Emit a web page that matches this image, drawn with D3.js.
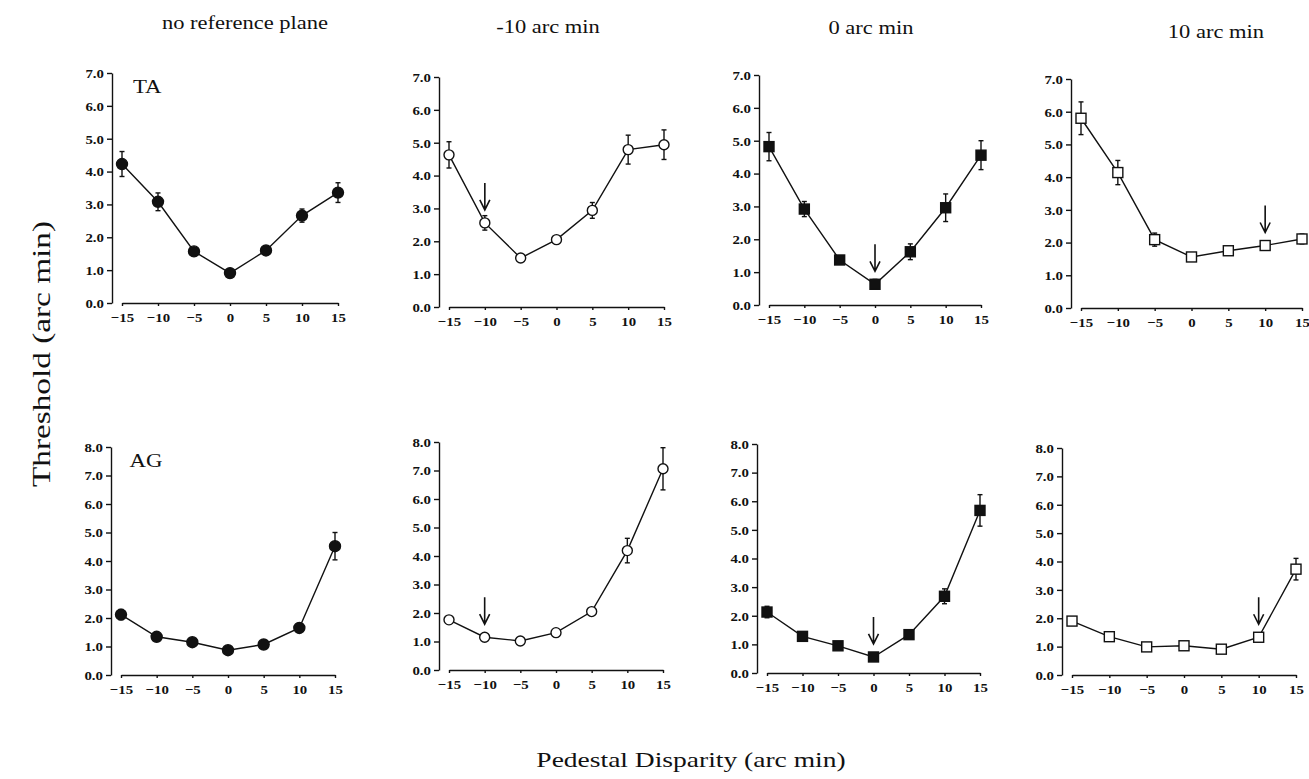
<!DOCTYPE html>
<html>
<head>
<meta charset="utf-8">
<script src="https://cdn.jsdelivr.net/npm/d3@7"></script>
<style>
  body { margin: 0; background: #fff; }
  svg { display: block; }
  text { font-family: "Liberation Serif", "Times New Roman", serif; fill: #111; }
</style>
</head>
<body>
<svg id="chart" width="1309" height="779"></svg>
<script>
// pedestal disparities (arc min)
var disparity = [-15, -10, -5, 0, 5, 10, 15];
var titles = ["no reference plane", "-10 arc min", "0 arc min", "10 arc min"];
var subjects = ["TA", "AG"];
var refPlane = [null, -10, 0, 10];
var yMax = [7, 8];

// subject TA
var taNone   = [4.23, 3.08, 1.57, 0.91, 1.60, 2.66, 3.36];
var taNoneE  = [0.38, 0.27, 0.08, 0.05, 0.06, 0.20, 0.30];
var taMinus  = [4.63, 2.56, 1.49, 2.05, 2.94, 4.79, 4.94];
var taMinusE = [0.40, 0.22, 0.07, 0.10, 0.24, 0.44, 0.45];
var taZero   = [4.82, 2.92, 1.37, 0.63, 1.62, 2.96, 4.56];
var taZeroE  = [0.43, 0.23, 0.10, 0.15, 0.24, 0.42, 0.44];
var taPlus   = [5.80, 4.14, 2.09, 1.56, 1.75, 1.91, 2.11];
var taPlusE  = [0.50, 0.37, 0.20, 0.06, 0.10, 0.12, 0.15];

// subject AG
var agNone   = [2.12, 1.34, 1.15, 0.87, 1.07, 1.65, 4.52];
var agNoneE  = [0.18, 0.07, 0.05, 0.04, 0.06, 0.16, 0.48];
var agMinus  = [1.76, 1.15, 1.02, 1.31, 2.05, 4.19, 7.06];
var agMinusE = [0.10, 0.05, 0.04, 0.06, 0.12, 0.43, 0.74];
var agZero   = [2.13, 1.28, 0.95, 0.56, 1.34, 2.68, 5.68];
var agZeroE  = [0.20, 0.05, 0.05, 0.05, 0.05, 0.26, 0.55];
var agPlus   = [1.90, 1.35, 0.99, 1.03, 0.91, 1.33, 3.73];
var agPlusE  = [0.10, 0.05, 0.04, 0.04, 0.04, 0.05, 0.38];

var series = [
  [[taNone, taNoneE], [taMinus, taMinusE], [taZero, taZeroE], [taPlus, taPlusE]],
  [[agNone, agNoneE], [agMinus, agMinusE], [agZero, agZeroE], [agPlus, agPlusE]]
];
var markers = ["circle", "circle", "square", "square"];
var filled = [true, false, true, false];

// panel placement
var plotLeft  = [[122, 449, 769, 1081], [121, 449, 767, 1072]];
var plotWidth = [[216, 215, 212, 221], [214, 214, 213, 224]];
var plotBottom = [[303, 307, 305, 308], [675, 670, 673, 675]];
var plotTop    = [[73, 77, 75, 79], [447, 442, 444, 448]];
var titleX = [245, 548, 871, 1216];
var titleY = [29, 33, 34, 38];

var svg = d3.select("#chart");

function stretch(sel, k){
  sel.each(function(){
    var w = this.getComputedTextLength();
    d3.select(this).attr("textLength", w * k).attr("lengthAdjust", "spacingAndGlyphs");
  });
}

// column titles
svg.selectAll("text.title").data(titles).enter().append("text")
  .attr("class", "title")
  .attr("x", function(d, i){ return titleX[i]; })
  .attr("y", function(d, i){ return titleY[i]; })
  .attr("text-anchor", "middle")
  .style("font-size", "18px")
  .text(function(d){ return d; })
  .call(stretch, 1.25);

// axis titles
svg.append("text")
  .attr("transform", "translate(50,354) rotate(-90)")
  .attr("text-anchor", "middle")
  .style("font-size", "26px")
  .text("Threshold (arc min)")
  .call(stretch, 1.28);

svg.append("text")
  .attr("x", 691).attr("y", 767)
  .attr("text-anchor", "middle")
  .style("font-size", "22px")
  .text("Pedestal Disparity (arc min)")
  .call(stretch, 1.25);

subjects.forEach(function(subj, r){
  titles.forEach(function(t, c){
    var vals = series[r][c][0];
    var errs = series[r][c][1];
    var data = disparity.map(function(d, i){ return {x: d, y: vals[i], e: errs[i]}; });

    var x = d3.scaleLinear().domain([-15, 15])
      .range([plotLeft[r][c], plotLeft[r][c] + plotWidth[r][c]]);
    var y = d3.scaleLinear().domain([0, yMax[r]])
      .range([plotBottom[r][c], plotTop[r][c]]);

    var g = svg.append("g");

    var yAxis = g.append("g")
      .attr("transform", "translate(" + (plotLeft[r][c] - 10) + ",0)")
      .call(d3.axisLeft(y).tickValues(d3.range(0, yMax[r] + 0.5, 1))
        .tickFormat(d3.format(".1f")).tickSize(5).tickSizeOuter(0).tickPadding(3));

    var xAxis = g.append("g")
      .attr("transform", "translate(0," + plotBottom[r][c] + ")")
      .call(d3.axisBottom(x).tickValues(disparity).tickSize(3).tickSizeOuter(0).tickPadding(6));

    [yAxis, xAxis].forEach(function(a){
      a.attr("font-size", null).attr("font-family", null);
      a.selectAll("path, line").attr("stroke", "#111").attr("stroke-width", 1.4);
      a.selectAll("text")
        .style("font-family", '"Liberation Serif", serif')
        .style("font-size", "13.5px")
        .style("font-weight", "bold")
        .attr("fill", "#111")
        .call(stretch, 1.1);
    });

    if(c === 0){
      g.append("text")
        .attr("x", x(-11.5)).attr("y", y(yMax[r]) + 20)
        .attr("text-anchor", "middle")
        .style("font-size", "19px")
        .text(subj)
        .call(stretch, 1.2);
    }

    // error bars
    var eb = g.selectAll("g.err").data(data).enter().append("g")
      .attr("stroke", "#111").attr("stroke-width", 1.4);
    eb.append("line")
      .attr("x1", function(d){ return x(d.x); }).attr("x2", function(d){ return x(d.x); })
      .attr("y1", function(d){ return y(d.y - d.e); }).attr("y2", function(d){ return y(d.y + d.e); });
    eb.append("line")
      .attr("x1", function(d){ return x(d.x) - 2.5; }).attr("x2", function(d){ return x(d.x) + 2.5; })
      .attr("y1", function(d){ return y(d.y + d.e); }).attr("y2", function(d){ return y(d.y + d.e); });
    eb.append("line")
      .attr("x1", function(d){ return x(d.x) - 2.5; }).attr("x2", function(d){ return x(d.x) + 2.5; })
      .attr("y1", function(d){ return y(d.y - d.e); }).attr("y2", function(d){ return y(d.y - d.e); });

    // connecting line
    g.append("path").datum(data)
      .attr("fill", "none").attr("stroke", "#111").attr("stroke-width", 1.4)
      .attr("d", d3.line().x(function(d){ return x(d.x); }).y(function(d){ return y(d.y); }));

    // markers
    var fill = filled[c] ? "#111" : "#fff";
    if(markers[c] === "circle"){
      g.selectAll("circle.pt").data(data).enter().append("circle")
        .attr("cx", function(d){ return x(d.x); })
        .attr("cy", function(d){ return y(d.y); })
        .attr("r", filled[c] ? 5.5 : 5)
        .attr("fill", fill).attr("stroke", "#111").attr("stroke-width", 1.4);
    } else {
      g.selectAll("rect.pt").data(data).enter().append("rect")
        .attr("x", function(d){ return x(d.x) - 5; })
        .attr("y", function(d){ return y(d.y) - 5; })
        .attr("width", 10).attr("height", 10)
        .attr("fill", fill).attr("stroke", "#111").attr("stroke-width", 1.4);
    }

    // arrow marking the reference plane
    if(refPlane[c] !== null){
      var ax = x(refPlane[c]);
      var tip = y(vals[disparity.indexOf(refPlane[c])]) - 13;
      g.append("path")
        .attr("fill", "none").attr("stroke", "#111").attr("stroke-width", 1.6)
        .attr("d", "M" + ax + "," + (tip - 27) + "V" + tip +
          "M" + (ax - 5) + "," + (tip - 10) + "L" + ax + "," + tip + "L" + (ax + 5) + "," + (tip - 10));
    }
  });
});
</script>
</body>
</html>
